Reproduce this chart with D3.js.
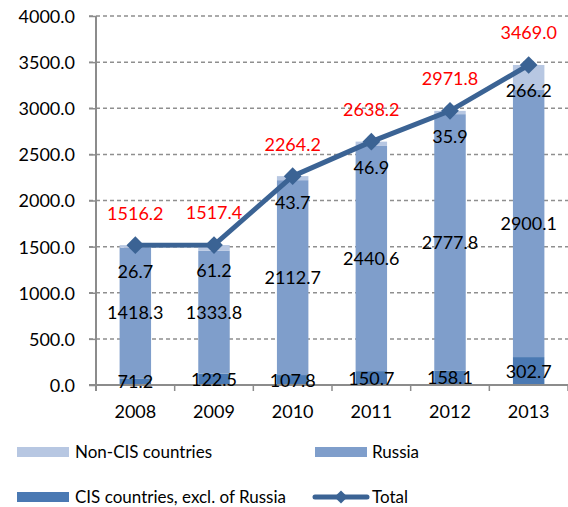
<!DOCTYPE html>
<html>
  <head>
    <meta charset="utf-8">
    <title>Exports</title>
    <style>
      body {
        margin: 0;
        background-color: white;
      }
      svg text {
        font-family: Lato, "Open Sans", sans-serif;
      }
      .label {
        font-size: 18px;
        fill: black;
      }
      .totalLabel {
        font-size: 18px;
        fill: #ff0000;
      }
      .legendText {
        font-size: 17px;
        fill: black;
      }
    </style>
  </head>
  <body>
  <svg class="graph"></svg>
  <script src="https://d3js.org/d3.v7.min.js"></script>
  <script>
    // chart values
    var years = ["2008", "2009", "2010", "2011", "2012", "2013"];
    var nonCis = [26.7, 61.2, 43.7, 46.9, 35.9, 266.2];
    var russia = [1418.3, 1333.8, 2112.7, 2440.6, 2777.8, 2900.1];
    var cis = [71.2, 122.5, 107.8, 150.7, 158.1, 302.7];
    var total = [1516.2, 1517.4, 2264.2, 2638.2, 2971.8, 3469.0];
    var yTicks = [0, 500, 1000, 1500, 2000, 2500, 3000, 3500, 4000];
    var seriesNames = ["CIS countries, excl. of Russia", "Russia", "Non-CIS countries"];

    var colors = {
      "Non-CIS countries": "#b7c7e2",
      "Russia": "#7f9ecb",
      "CIS countries, excl. of Russia": "#4a79b3"
    };
    var lineColor = "#3b6394";

    var width = 568, height = 507;
    var plotLeft = 96, plotRight = 568, plotTop = 16, plotBottom = 385;

    var svg = d3.select("svg")
      .attr("width", width)
      .attr("height", height);

    var x = d3.scaleBand()
      .domain(years)
      .range([plotLeft, plotRight])
      .paddingInner(0.6)
      .paddingOuter(0.3);

    // boundaries between categories for the tick marks
    var xb = d3.scaleLinear()
      .domain([0, years.length])
      .range([plotLeft, plotRight]);

    var y = d3.scaleLinear()
      .domain([0, 4000])
      .range([plotBottom, plotTop]);

    // gridlines
    svg.append("g")
      .selectAll("line")
      .data(yTicks.filter(function(d) { return d > 0; }))
      .enter().append("line")
      .attr("x1", plotLeft - 7)
      .attr("x2", plotRight)
      .attr("y1", function(d) { return y(d); })
      .attr("y2", function(d) { return y(d); })
      .attr("stroke", "#8f8f8f")
      .attr("stroke-width", 1.5)
      .attr("stroke-dasharray", "4,3");

    // y axis
    var yAxis = d3.axisLeft(y)
      .tickValues(yTicks)
      .tickFormat(function(d) { return d.toFixed(1); })
      .tickSize(7)
      .tickPadding(14);

    var ya = svg.append("g")
      .attr("transform", "translate(" + plotLeft + ",0)")
      .call(yAxis);
    ya.select(".domain").attr("stroke", "#8c8c8c").attr("stroke-width", 2)
      .attr("d", "M0," + plotTop + "V" + (plotBottom + 6));
    ya.selectAll(".tick line").attr("stroke", "#8c8c8c").attr("stroke-width", 1.5);
    ya.selectAll(".tick text")
      .attr("class", "label")
      .attr("fill", "black")
      .style("font-size", "18px")
      .attr("dy", "0.36em");

    // stacked bars
    var rows = years.map(function(yr, i) {
      return {
        year: yr,
        "CIS countries, excl. of Russia": cis[i],
        "Russia": russia[i],
        "Non-CIS countries": nonCis[i]
      };
    });
    var stacked = d3.stack().keys(seriesNames)(rows);

    var layer = svg.append("g")
      .selectAll("g")
      .data(stacked)
      .enter().append("g")
      .attr("fill", function(d) { return colors[d.key]; });

    layer.selectAll("rect")
      .data(function(d) { return d; })
      .enter().append("rect")
      .attr("x", function(d) { return x(d.data.year); })
      .attr("width", x.bandwidth())
      .attr("y", function(d) { return y(d[1]); })
      .attr("height", function(d) { return y(d[0]) - y(d[1]); });

    // x axis
    var xg = svg.append("g");
    xg.append("line")
      .attr("x1", plotLeft - 7).attr("x2", plotRight)
      .attr("y1", plotBottom).attr("y2", plotBottom)
      .attr("stroke", "#8c8c8c").attr("stroke-width", 2);
    xg.selectAll(".xt")
      .data(d3.range(years.length + 1))
      .enter().append("line")
      .attr("x1", function(d) { return xb(d); })
      .attr("x2", function(d) { return xb(d); })
      .attr("y1", plotBottom)
      .attr("y2", plotBottom + 6)
      .attr("stroke", "#8c8c8c").attr("stroke-width", 1.5);
    xg.selectAll("text")
      .data(years)
      .enter().append("text")
      .attr("class", "label")
      .attr("x", function(d) { return x(d) + x.bandwidth() / 2; })
      .attr("y", 418)
      .attr("text-anchor", "middle")
      .text(function(d) { return d; });

    // total line
    var line = d3.line()
      .x(function(d, i) { return x(years[i]) + x.bandwidth() / 2; })
      .y(function(d) { return y(d); });

    svg.append("path")
      .datum(total)
      .attr("d", line)
      .attr("fill", "none")
      .attr("stroke", lineColor)
      .attr("stroke-width", 5);

    svg.append("g")
      .selectAll("path")
      .data(total)
      .enter().append("path")
      .attr("d", d3.symbol().type(d3.symbolDiamond2).size(200))
      .attr("transform", function(d, i) {
        return "translate(" + (x(years[i]) + x.bandwidth() / 2) + "," + y(d) + ")";
      })
      .attr("fill", lineColor);

    // data labels
    var labels = svg.append("g");
    years.forEach(function(yr, i) {
      var cx = x(yr) + x.bandwidth() / 2;
      labels.append("text").attr("class", "label")
        .attr("x", cx).attr("y", y(cis[i] / 2)).attr("dy", "0.36em")
        .attr("text-anchor", "middle").text(cis[i].toFixed(1));
      labels.append("text").attr("class", "label")
        .attr("x", cx).attr("y", y(cis[i] + russia[i] / 2)).attr("dy", "0.36em")
        .attr("text-anchor", "middle").text(russia[i].toFixed(1));
      labels.append("text").attr("class", "label")
        .attr("x", cx).attr("y", y(total[i]) + 26).attr("dy", "0.36em")
        .attr("text-anchor", "middle").text(nonCis[i].toFixed(1));
      labels.append("text").attr("class", "totalLabel")
        .attr("x", cx).attr("y", y(total[i]) - 32).attr("dy", "0.36em")
        .attr("text-anchor", "middle").text(total[i].toFixed(1));
    });

    // legend
    var legend = [
      {name: "Non-CIS countries", type: "bar", x: 17, y: 452},
      {name: "Russia", type: "bar", x: 315, y: 452},
      {name: "CIS countries, excl. of Russia", type: "bar", x: 17, y: 497},
      {name: "Total", type: "line", x: 313, y: 497}
    ];
    var lg = svg.append("g")
      .selectAll("g")
      .data(legend)
      .enter().append("g")
      .attr("transform", function(d) { return "translate(" + d.x + "," + d.y + ")"; });

    lg.filter(function(d) { return d.type === "bar"; })
      .append("rect")
      .attr("x", 0).attr("y", -5)
      .attr("width", 52).attr("height", 10)
      .attr("fill", function(d) { return colors[d.name]; });

    var ll = lg.filter(function(d) { return d.type === "line"; });
    ll.append("line")
      .attr("x1", 2).attr("x2", 54)
      .attr("stroke", lineColor).attr("stroke-width", 5)
      .attr("stroke-linecap", "round");
    ll.append("path")
      .attr("d", d3.symbol().type(d3.symbolDiamond2).size(110))
      .attr("transform", "translate(28,0)")
      .attr("fill", lineColor);

    lg.append("text")
      .attr("class", "legendText")
      .attr("x", function(d) { return d.type === "bar" ? (d.x === 17 ? 58 : 57) : 59; })
      .attr("dy", "0.36em")
      .text(function(d) { return d.name; });
  </script>
  </body>
</html>
